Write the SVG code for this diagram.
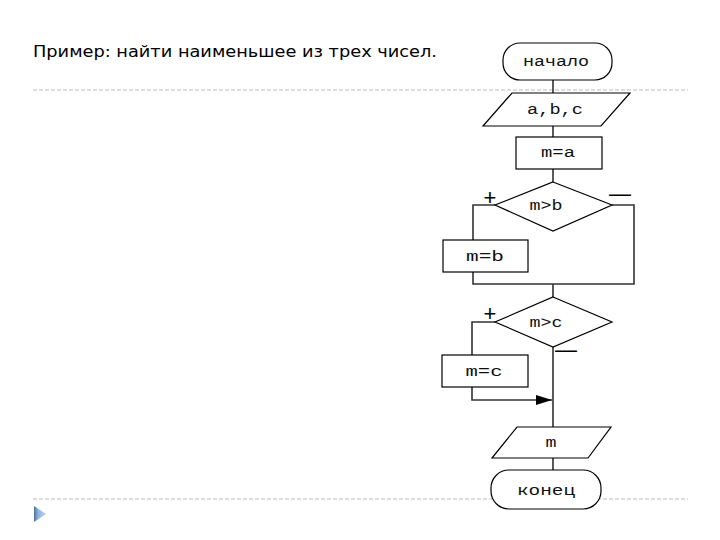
<svg xmlns="http://www.w3.org/2000/svg" width="720" height="540" viewBox="0 0 720 540">
<style>
.node{fill:#fff;stroke:#000;stroke-width:1.2}
.lbl{font-family:"Liberation Mono","DejaVu Sans Mono",monospace;font-size:14px;fill:#111;text-anchor:middle}
.con{fill:none;stroke:#333;stroke-width:1.6}
.sep{stroke:#bbb;stroke-width:1;stroke-dasharray:4 2}
.sign{font-family:"Liberation Sans",Arial,sans-serif;font-size:22px;fill:#000;text-anchor:middle}
</style>
<defs>
<marker id="arr" markerWidth="16" markerHeight="10" refX="16" refY="5" orient="auto" markerUnits="userSpaceOnUse">
<path d="M0,0 L16,5 L0,10 Z" fill="#000"/>
</marker>
<linearGradient id="tri" x1="0" y1="0" x2="1" y2="0">
<stop offset="0" stop-color="#4f6f96"/>
<stop offset="0.35" stop-color="#8fb4e0"/>
<stop offset="1" stop-color="#b8d2f0"/>
</linearGradient>
</defs>
<rect width="720" height="540" fill="#fff"/>
<text x="33" y="57" font-family="DejaVu Sans, Verdana, sans-serif" font-size="15" textLength="404" lengthAdjust="spacingAndGlyphs" fill="#000">Пример: найти наименьшее из трех чисел.</text>
<line class="sep" x1="33" y1="90" x2="688" y2="90"/>
<line class="sep" x1="33" y1="499" x2="688" y2="499"/>
<polygon points="34,506 46,514 34,522" fill="url(#tri)"/>
<g id="connectors">
<line class="con" x1="553" y1="80" x2="553" y2="93"/>
<line class="con" x1="553" y1="126" x2="553" y2="137"/>
<line class="con" x1="553" y1="169" x2="553" y2="182"/>
<polyline class="con" points="495,205 473,205 473,240"/>
<polyline class="con" points="473,272 473,284 634,284 634,205 612,205"/>
<line class="con" x1="553" y1="284" x2="553" y2="297"/>
<polyline class="con" points="495,322 472,322 472,355"/>
<polyline class="con" points="472,387 472,400 552,400" marker-end="url(#arr)"/>
<line class="con" x1="553" y1="347" x2="553" y2="427"/>
<line class="con" x1="553" y1="458" x2="553" y2="470"/>
<text class="sign" x="490" y="205">+</text>
<text class="sign" x="620" y="201">—</text>
<text class="sign" x="490" y="321">+</text>
<text class="sign" x="566" y="357">—</text>
</g>
<g id="start">
<rect class="node" x="503" y="43" width="109" height="37" rx="17"/>
<text class="lbl" x="556" y="66" textLength="66" lengthAdjust="spacingAndGlyphs">начало</text>
</g>
<g id="input">
<polygon class="node" points="512,93 630,93 601,126 483,126"/>
<text class="lbl" x="555" y="114" textLength="56" lengthAdjust="spacingAndGlyphs">a,b,c</text>
</g>
<g id="assign-a">
<rect class="node" x="516" y="137" width="86" height="32"/>
<text class="lbl" x="558" y="157" textLength="34" lengthAdjust="spacingAndGlyphs">m=a</text>
</g>
<g id="cond-b">
<polygon class="node" points="553,182 612,205 553,231 495,205"/>
<text class="lbl" x="546" y="210" textLength="33" lengthAdjust="spacingAndGlyphs">m&gt;b</text>
</g>
<g id="assign-b">
<rect class="node" x="443" y="240" width="85" height="32" stroke-width="1.8"/>
<text class="lbl" x="485" y="261" textLength="38" lengthAdjust="spacingAndGlyphs">m=b</text>
</g>
<g id="cond-c">
<polygon class="node" points="553,297 612,322 553,347 495,322"/>
<text class="lbl" x="546" y="327" textLength="33" lengthAdjust="spacingAndGlyphs">m&gt;c</text>
</g>
<g id="assign-c">
<rect class="node" x="442" y="355" width="86" height="32"/>
<text class="lbl" x="484" y="376" textLength="37" lengthAdjust="spacingAndGlyphs">m=c</text>
</g>
<g id="output">
<polygon class="node" points="517,427 611,427 588,458 492,458"/>
<text class="lbl" x="551" y="447" textLength="11" lengthAdjust="spacingAndGlyphs">m</text>
</g>
<g id="end">
<rect class="node" x="491" y="470" width="110" height="39" rx="18"/>
<text class="lbl" x="546" y="495" textLength="58" lengthAdjust="spacingAndGlyphs">конец</text>
</g>
</svg>
